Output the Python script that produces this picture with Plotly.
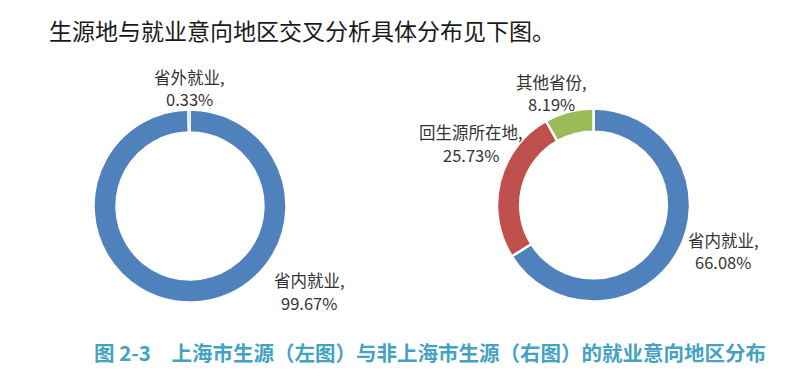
import plotly.graph_objects as go

# ---- data ----
left_labels = ["省内就业", "省外就业"]
left_values = [99.67, 0.33]
right_labels = ["省内就业", "回生源所在地", "其他省份"]
right_values = [66.08, 25.73, 8.19]

header_text = "生源地与就业意向地区交叉分析具体分布见下图。"
caption_text = "图 2-3　上海市生源（左图）与非上海市生源（右图）的就业意向地区分布"

BLUE, RED, GREEN = "#4F81BD", "#C0504D", "#9BBB59"
W, H = 800, 391
OFF = 8  # default page body margin
FONT = "Noto Sans CJK SC"

def px(x, y):
    return (x - OFF) / W, 1 - (y - OFF) / H

def dom(cx, cy, r):
    cx -= OFF
    cy -= OFF
    return dict(x=[(cx - r) / W, (cx + r) / W], y=[(H - cy - r) / H, (H - cy + r) / H])

fig = go.Figure()
fig.add_trace(go.Pie(
    labels=left_labels, values=left_values, hole=0.77, sort=False,
    direction="clockwise", rotation=0, textinfo="none", hoverinfo="label+percent",
    marker=dict(colors=[BLUE, BLUE], line=dict(color="white", width=1.5)),
    domain=dom(190, 206, 96), showlegend=False,
))
fig.add_trace(go.Pie(
    labels=right_labels, values=right_values, hole=0.76, sort=False,
    direction="clockwise", rotation=0, textinfo="none", hoverinfo="label+percent",
    marker=dict(colors=[BLUE, RED, GREEN], line=dict(color="white", width=2.5)),
    domain=dom(593.5, 205, 96.5), showlegend=False,
))

annotations = []
# (x centre, y of first row, y of second row)
left_pos = [(309, 280, 303), (189, 77, 99)]
right_pos = [(723, 240, 262), (471, 132, 155), (551, 82, 104)]
for labs, vals, poss in [(left_labels, left_values, left_pos), (right_labels, right_values, right_pos)]:
    for lab, v, (x, y1, y2) in zip(labs, vals, poss):
        for txt, yy in [(f"{lab},", y1), (f"{v:.2f}%", y2)]:
            ax, ay = px(x, yy)
            annotations.append(dict(
                x=ax, y=ay, xref="paper", yref="paper", showarrow=False,
                text=txt, xanchor="center", yanchor="middle", borderpad=0,
                font=dict(family=FONT, size=16.5, color="#333333"),
            ))

hx, hy = px(47, 30)
annotations.append(dict(x=hx, y=hy, xref="paper", yref="paper", showarrow=False,
                        text=header_text, xanchor="left", yanchor="middle",
                        font=dict(family=FONT, size=23, color="#1a1a1a")))
cx, cy = px(92, 352)
annotations.append(dict(x=cx, y=cy, xref="paper", yref="paper", showarrow=False,
                        text=f"<b>{caption_text}</b>", xanchor="left", yanchor="middle",
                        font=dict(family=FONT, size=20.5, color="#45A2C2")))

fig.update_layout(
    width=W, height=H, margin=dict(l=0, r=0, t=0, b=0),
    paper_bgcolor="white", plot_bgcolor="white",
    annotations=annotations,
)
fig.write_html("out.html")
